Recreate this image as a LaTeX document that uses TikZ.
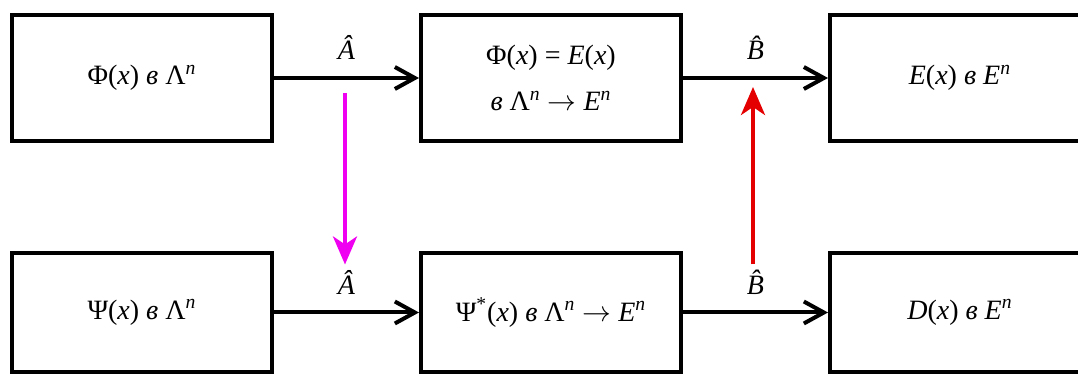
\documentclass[tikz,border=0pt]{standalone}
\usepackage{fontspec}
\setmainfont{Liberation Serif}
\usepackage{xcolor}
\definecolor{mapmagenta}{RGB}{240, 0, 240}
\definecolor{mapred}{RGB}{228, 0, 0}
\usetikzlibrary{arrows.meta, positioning}

\newcommand{\vin}{\textit{в}}
\newcommand{\supn}{\textsuperscript{\textit{n}}}

\begin{document}
\begin{tikzpicture}[x=0.5pt, y=0.5pt,
      blocktop/.style={rectangle, draw=black, line width=2pt, font=\fontsize{14}{17}\selectfont, minimum width=130pt, minimum height=63pt, align=center, inner sep=0pt},
      blockbot/.style={blocktop, minimum height=59.5pt},
      opname/.style={font=\fontsize{14}{17}\selectfont\itshape, inner sep=2pt},
      arr/.style={-{Straight Barb[length=10pt, width=11pt]}, line width=2pt, black},
      magarr/.style={-{Stealth[length=14pt, width=12pt, inset=4pt]}, line width=2pt, mapmagenta},
      redarr/.style={-{Stealth[length=14pt, width=12pt, inset=4pt]}, line width=2pt, mapred}
  ]
    \clip (0,0) rectangle (1078,374);
    \useasboundingbox (0,0) rectangle (1078,374);

    % Row 1
    \node[blocktop] (f1) at (142, 296) {Φ(\textit{x}) \vin{} Λ\supn};
    \node[blocktop] (f2) at (551, 296) {Φ(\textit{x}) = \textit{E}(\textit{x})\\[6pt] \vin{} Λ\supn{} $\rightarrow$ \textit{E}\supn};
    \node[blocktop] (f3) at (960, 296) {\textit{E}(\textit{x}) \vin{} \textit{E}\supn};

    % Row 2
    \node[blockbot] (g1) at (142, 61.5) {Ψ(\textit{x}) \vin{} Λ\supn};
    \node[blockbot] (g2) at (551, 61.5) {Ψ\textsuperscript{*}(\textit{x}) \vin{} Λ\supn{} $\rightarrow$ \textit{E}\supn};
    \node[blockbot] (g3) at (960, 61.5) {\textit{D}(\textit{x}) \vin{} \textit{E}\supn};

    % Connections
    \draw[arr] (f1) -- node[opname, midway, above=6pt] (la1) {Â} (f2);
    \draw[arr] (f2) -- node[opname, midway, above=6pt] (lb1) {\^{B}} (f3);
    \draw[arr] (g1) -- node[opname, midway, above=6pt] (la2) {Â} (g2);
    \draw[arr] (g2) -- node[opname, midway, above=6pt] (lb2) {\^{B}} (g3);

    % Links between the rows
    \coordinate (mtop) at (345, 281);
    \coordinate (rtop) at (753, 287);
    \draw[magarr] (mtop) -- (la2.north -| mtop);
    \draw[redarr] (lb2.north -| rtop) -- (rtop);
  \end{tikzpicture}
\end{document}
